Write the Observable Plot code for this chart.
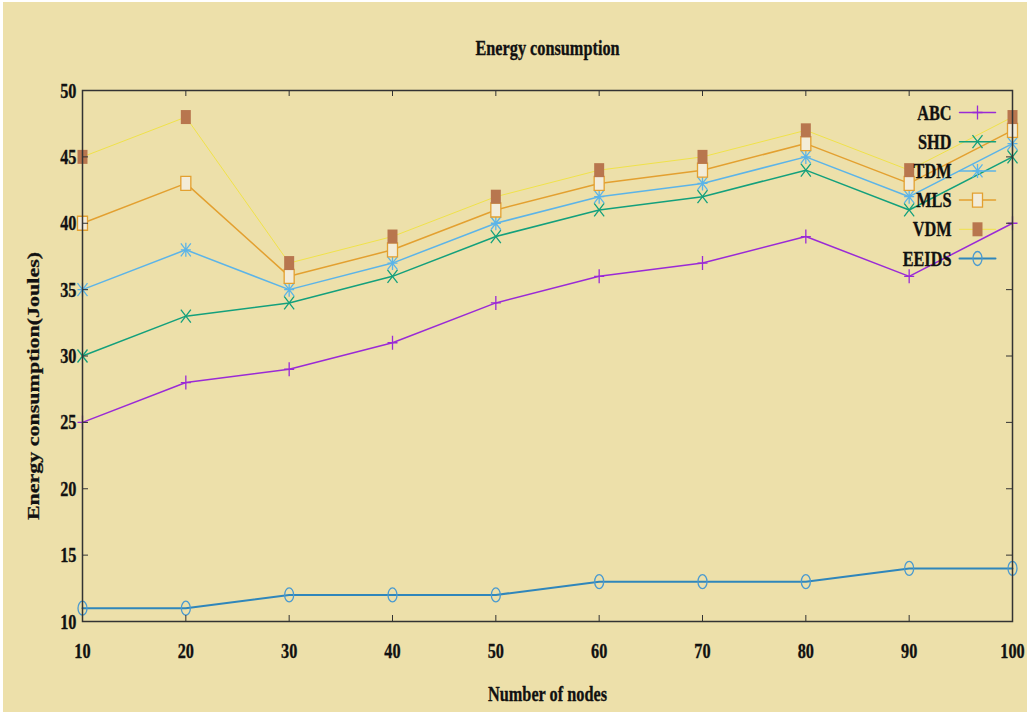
<!DOCTYPE html>
<html>
<head>
<meta charset="utf-8">
<script src="https://cdn.jsdelivr.net/npm/d3@7"></script>
<script src="https://cdn.jsdelivr.net/npm/@observablehq/plot@0.6"></script>
<style>
  html, body { margin: 0; padding: 0; background: #ffffff; }
  #bg { position: absolute; left: 3px; top: 2px; width: 1024px; height: 710px; background: #EDE0AA; }
  #chart { position: absolute; left: 0; top: 0; }
</style>
</head>
<body>
<div id="bg"></div>
<div id="chart"></div>
<script>
// ---- data ----
const nodes = [10, 20, 30, 40, 50, 60, 70, 80, 90, 100];
const seriesNames = ["ABC", "SHD", "TDM", "MLS", "VDM", "EEIDS"];
const ABC   = [25, 28, 29, 31, 34, 36, 37, 39, 36, 40];
const SHD   = [30, 33, 34, 36, 39, 41, 42, 44, 41, 45];
const TDM   = [35, 38, 35, 37, 40, 42, 43, 45, 42, 46];
const MLS   = [40, 43, 36, 38, 41, 43, 44, 46, 43, 47];
const VDM   = [45, 48, 37, 39, 42, 44, 45, 47, 44, 48];
const EEIDS = [11, 11, 12, 12, 12, 13, 13, 13, 14, 14];
const xTicks = [10, 20, 30, 40, 50, 60, 70, 80, 90, 100];
const yTicks = [10, 15, 20, 25, 30, 35, 40, 45, 50];
const titleText = "Energy consumption";
const xLabel = "Number of nodes";
const yLabel = "Energy consumption(Joules)";

const values = {ABC, SHD, TDM, MLS, VDM, EEIDS};
const rows = seriesNames.flatMap(name => values[name].map((v, j) => ({series: name, x: nodes[j], y: v})));

// ---- symbols (stretched vertically like the reference) ----
const plusSym = {draw(c) { c.moveTo(-5, 0); c.lineTo(5, 0); c.moveTo(0, -7); c.lineTo(0, 7); }};
const timesSym = {draw(c) { c.moveTo(-5, -6.5); c.lineTo(5, 6.5); c.moveTo(-5, 6.5); c.lineTo(5, -6.5); }};
const starSym = {draw(c) { plusSym.draw(c); timesSym.draw(c); }};
const rectSym = {draw(c) { c.rect(-5, -7, 10, 14); }};
const ellipseSym = {draw(c) {
  const rx = 4.5, ry = 7, k = 0.5523;
  c.moveTo(0, -ry);
  c.bezierCurveTo(k * rx, -ry, rx, -k * ry, rx, 0);
  c.bezierCurveTo(rx, k * ry, k * rx, ry, 0, ry);
  c.bezierCurveTo(-k * rx, ry, -rx, k * ry, -rx, 0);
  c.bezierCurveTo(-rx, -k * ry, -k * rx, -ry, 0, -ry);
  c.closePath();
}};

const style = {
  ABC:   {line: "#9a2ad6", lw: 1.5, sym: plusSym,    stroke: "#9a2ad6", fill: "none"},
  SHD:   {line: "#13a07c", lw: 1.5, sym: timesSym,   stroke: "#13a07c", fill: "none"},
  TDM:   {line: "#5cb4e8", lw: 1.5, sym: starSym,    stroke: "#5cb4e8", fill: "none"},
  MLS:   {line: "#e3a030", lw: 1.5, sym: rectSym,    stroke: "#e3a030", fill: "#f3ecd8"},
  VDM:   {line: "#f0e24a", lw: 1,   sym: rectSym,    stroke: "none",    fill: "#b8764e"},
  EEIDS: {line: "#2f86bb", lw: 2,   sym: ellipseSym, stroke: "#4a9ad0", fill: "none"}
};

const W = 1030, H = 715;
const mL = 82, mR = 18, mT = 90, mB = 94;
const fw = W - mL - mR, fh = H - mT - mB;
const ink = "#111";
const txt = {fontSize: 22, fill: ink, stroke: ink, strokeWidth: 0.35};

const marks = [];
// data lines + markers
for (const name of seriesNames) {
  const s = style[name];
  const d = rows.filter(r => r.series === name);
  marks.push(Plot.line(d, {x: "x", y: "y", stroke: s.line, strokeWidth: s.lw}));
  marks.push(Plot.dot(d, {x: "x", y: "y", symbol: s.sym, r: 5, stroke: s.stroke, fill: s.fill, strokeWidth: 1.3}));
}
// legend (inside top-right)
seriesNames.forEach((name, i) => {
  const s = style[name];
  const dy = 22 + 29.2 * i;
  marks.push(Plot.vector([name], {frameAnchor: "top-right", dx: -53, dy, length: 36, rotate: 90, anchor: "start",
    shape: {draw(c, l) { c.moveTo(0, 0); c.lineTo(0, -l); }}, stroke: s.line, strokeWidth: s.lw}));
  marks.push(Plot.dot([name], {frameAnchor: "top-right", dx: -35, dy, symbol: s.sym, r: 5, stroke: s.stroke, fill: s.fill, strokeWidth: 1.3}));
  marks.push(Plot.text([name], {frameAnchor: "top-right", dx: -61, dy, text: d => d, textAnchor: "end", lineAnchor: "middle", ...txt}));
});
// inward ticks
marks.push(Plot.tickX(xTicks, {x: d => d, insetBottom: fh - 6, stroke: "#333"}));
marks.push(Plot.tickX(xTicks, {x: d => d, insetTop: fh - 6, stroke: "#333"}));
marks.push(Plot.tickY(yTicks, {y: d => d, insetRight: fw - 6, stroke: "#333"}));
marks.push(Plot.tickY(yTicks, {y: d => d, insetLeft: fw - 6, stroke: "#333"}));
// tick labels
marks.push(Plot.text(xTicks, {x: d => d, frameAnchor: "bottom", dy: 29, text: d => String(d), textAnchor: "middle", lineAnchor: "middle", ...txt}));
marks.push(Plot.text(yTicks, {y: d => d, frameAnchor: "left", dx: -6, text: d => String(d), textAnchor: "end", lineAnchor: "middle", ...txt}));
// frame
marks.push(Plot.frame({stroke: "#333", strokeWidth: 1.5}));
// titles
marks.push(Plot.text([titleText], {frameAnchor: "top", dy: -43, text: d => d, textAnchor: "middle", lineAnchor: "middle", ...txt}));
marks.push(Plot.text([xLabel], {frameAnchor: "bottom", dy: 72, text: d => d, textAnchor: "middle", lineAnchor: "middle", ...txt}));
marks.push(Plot.text([yLabel], {frameAnchor: "left", dx: -49, dy: 30, rotate: -90, text: d => d, textAnchor: "middle", lineAnchor: "middle", ...txt}));

const chart = Plot.plot({
  width: W, height: H,
  marginLeft: mL, marginRight: mR, marginTop: mT, marginBottom: mB,
  style: {background: "transparent", fontFamily: "'Liberation Serif', 'Times New Roman', serif", fontWeight: "bold", overflow: "visible"},
  x: {domain: [10, 100], axis: null},
  y: {domain: [10, 50], axis: null},
  marks
});

// condense text horizontally (reference is stretched vertically)
d3.select(chart).selectAll("text").each(function() {
  let t = this.getAttribute("transform");
  if (!t) {
    const x = this.getAttribute("x") || 0, y = this.getAttribute("y") || 0;
    this.removeAttribute("x"); this.removeAttribute("y");
    t = `translate(${x},${y})`;
  }
  const rotated = /rotate\(/.test(t);
  this.setAttribute("transform", t + (rotated ? " scale(1,0.74)" : " scale(0.74,1)"));
});

document.getElementById("chart").appendChild(chart);
</script>
</body>
</html>
